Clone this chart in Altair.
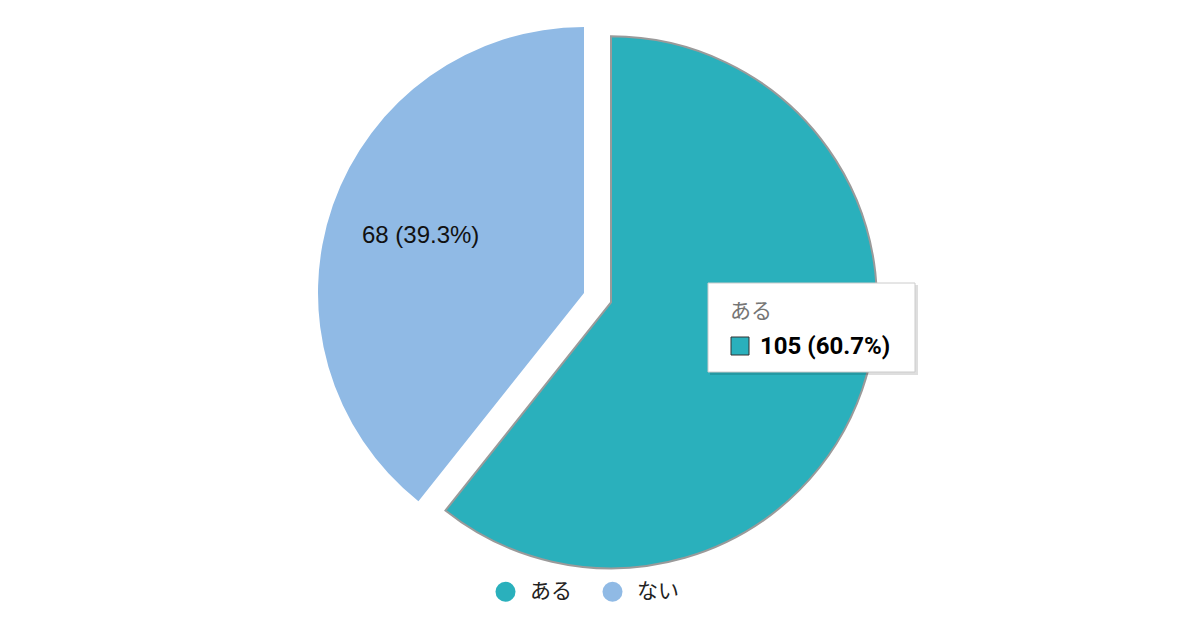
import altair as alt
import pandas as pd

# ---- data ----
categories = ["ある", "ない"]
counts = [105, 68]
colors = ["#2ab0bc", "#90bae5"]

total = sum(counts)
labels = [f"{c} ({c / total * 100:.1f}%)" for c in counts]
df = pd.DataFrame({"cat": categories, "count": counts, "label": labels, "order": [0, 1]})

# ---- layout ----
W, H = 1152, 570
R = 266
LABEL_R = 173
DX, DY = 27, 9.3

base = alt.Chart(df)
theta = alt.Theta("count:Q", stack=True)
order = alt.Order("order:Q")
color = alt.Color(
    "cat:N",
    scale=alt.Scale(domain=categories, range=colors),
    legend=alt.Legend(
        orient="none",
        legendX=487,
        legendY=573,
        direction="horizontal",
        title=None,
        symbolType="circle",
        symbolSize=400,
        symbolStrokeWidth=0,
        symbolOpacity=1,
        labelFontSize=21,
        labelFont="Noto Sans CJK JP",
        labelColor="#222222",
        labelOffset=14,
        labelLimit=200,
        columnPadding=30,
    ),
)

show_nai = alt.condition(alt.datum.cat == categories[1], alt.value(1), alt.value(0))
show_aru = alt.condition(alt.datum.cat == categories[0], alt.value(1), alt.value(0))

nai_arc = base.mark_arc(outerRadius=R).encode(
    theta=theta, color=color, order=order, opacity=show_nai
)
aru_arc = base.mark_arc(
    outerRadius=R, xOffset=DX, yOffset=DY, stroke="#9a9a9a", strokeWidth=2
).encode(theta=theta, color=color, order=order, opacity=show_aru)

nai_text = base.mark_text(
    radius=LABEL_R, fontSize=24, font="Liberation Sans", color="#111111"
).encode(theta=theta, order=order, text="label:N", opacity=show_nai)
aru_text = base.mark_text(
    radius=LABEL_R, fontSize=24, font="Liberation Sans", color="#111111", dx=DX, dy=DY
).encode(theta=theta, order=order, text="label:N", opacity=show_aru)

# ---- tooltip overlay (hover box on "ある") ----
tip_df = pd.DataFrame({"title": [categories[0]], "body": [labels[0]]})
tip = alt.Chart(tip_df)
tip_shadow = tip.mark_rect(color="#000000", opacity=0.13).encode(
    x=alt.value(702), x2=alt.value(910), y=alt.value(277), y2=alt.value(367)
)
tip_box = tip.mark_rect(color="#ffffff", stroke="#cccccc", strokeWidth=1).encode(
    x=alt.value(700), x2=alt.value(907), y=alt.value(275), y2=alt.value(364)
)
tip_title = tip.mark_text(
    align="left", baseline="middle", fontSize=21, font="Noto Sans CJK JP", color="#757575"
).encode(x=alt.value(722), y=alt.value(304), text="title:N")
tip_swatch = tip.mark_rect(color=colors[0], stroke="#333333", strokeWidth=1).encode(
    x=alt.value(723), x2=alt.value(741), y=alt.value(329), y2=alt.value(347)
)
tip_body = tip.mark_text(
    align="left", baseline="middle", fontSize=24, font="Roboto", fontWeight="bold", color="#000000"
).encode(x=alt.value(752), y=alt.value(339), text="body:N")

chart = (
    alt.layer(nai_arc, aru_arc, nai_text, aru_text, tip_shadow, tip_box, tip_title, tip_swatch, tip_body)
    .properties(
        width=W,
        height=H,
        padding={"left": 0, "top": 0, "right": 0, "bottom": 24},
        background="#ffffff",
    )
    .configure_view(stroke=None)
)

chart.save("out.html", embed_options={"renderer": "svg", "actions": False})
